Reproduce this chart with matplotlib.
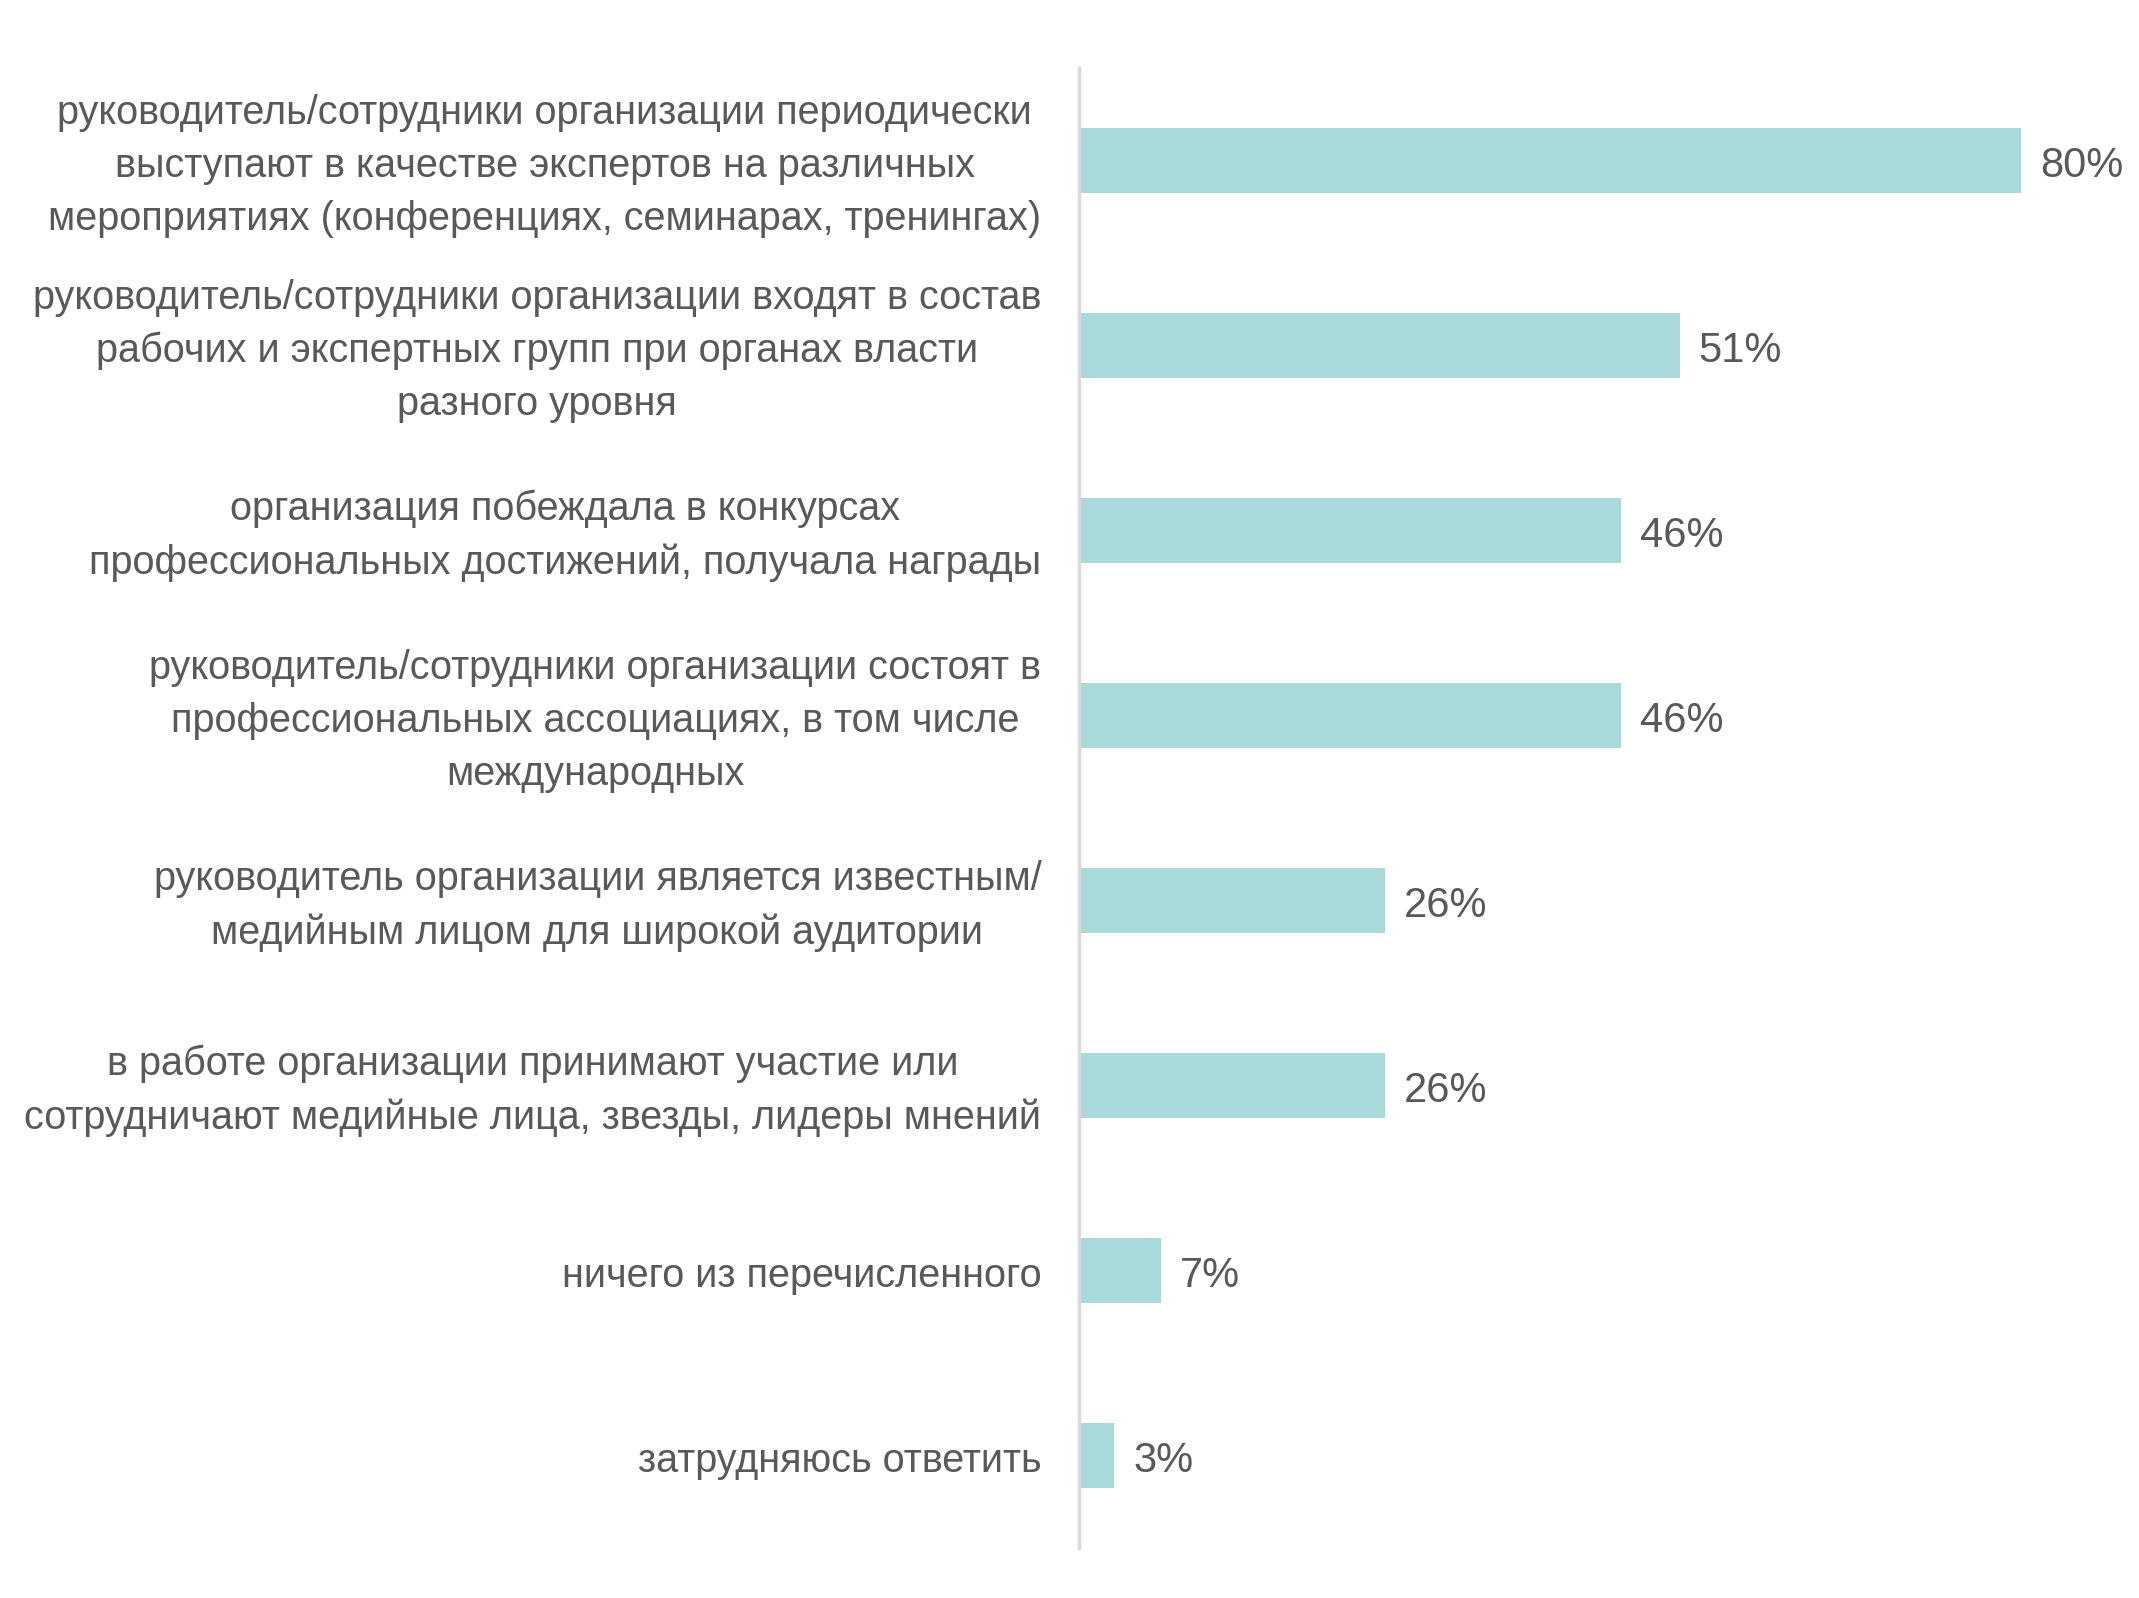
import matplotlib
matplotlib.use('Agg')
import matplotlib.pyplot as plt

plt.rcParams['font.family'] = ['Liberation Sans', 'DejaVu Sans']

categories = [
    'руководитель/сотрудники организации периодически\nвыступают в качестве экспертов на различных\nмероприятиях (конференциях, семинарах, тренингах)',
    'руководитель/сотрудники организации входят в состав\nрабочих и экспертных групп при органах власти\nразного уровня',
    'организация побеждала в конкурсах\nпрофессиональных достижений, получала награды',
    'руководитель/сотрудники организации состоят в\nпрофессиональных ассоциациях, в том числе\nмеждународных',
    'руководитель организации является известным/\nмедийным лицом для широкой аудитории',
    'в работе организации принимают участие или\nсотрудничают медийные лица, звезды, лидеры мнений',
    'ничего из перечисленного',
    'затрудняюсь ответить',
]
values = [80, 51, 46, 46, 26, 26, 7, 3]
value_labels = ['80%', '51%', '46%', '46%', '26%', '26%', '7%', '3%']

text_color = '#595959'
bar_color = '#A9DADB'

fig = plt.figure(figsize=(21.39, 15.98), dpi=100)
ax = fig.add_axes([1079 / 2139, 50 / 1598, 1060 / 2139, 1480 / 1598])

ypos = list(range(len(values)))
ax.barh(ypos, values, height=0.35, color=bar_color)
ax.set_ylim(len(values) - 0.5, -0.5)
ax.set_xlim(0, 90)

# small downward nudge so the text sits visually centred on the bars
dy = 0.03

for y, v, lab in zip(ypos, values, value_labels):
    ax.text(v + 1.6, y + dy, lab, va='center', ha='left', fontsize=30, color=text_color)

for y, cat in zip(ypos, categories):
    ax.text(-3.2, y + dy, cat, va='center', ha='right', multialignment='center',
            fontsize=28.5, color=text_color, linespacing=1.5)

for side in ['top', 'right', 'bottom']:
    ax.spines[side].set_visible(False)
ax.spines['left'].set_color('#D9D9D9')
ax.spines['left'].set_linewidth(2.5)
ax.set_xticks([])
ax.set_yticks([])

fig.savefig('out.png', dpi=100, facecolor='white')
